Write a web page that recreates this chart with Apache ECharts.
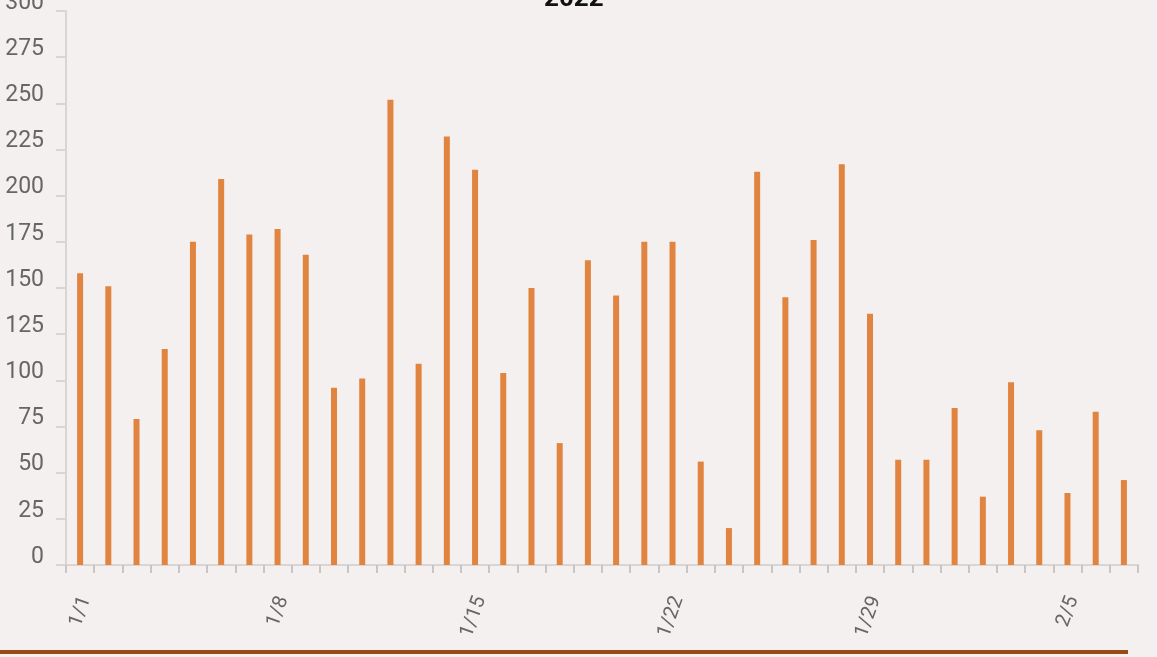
<!DOCTYPE html>
<html>
<head>
<meta charset="utf-8">
<script src="https://cdn.jsdelivr.net/npm/echarts@6/dist/echarts.min.js"></script>
<style>
html,body{margin:0;padding:0;background:#F4F0EF;}
#c{width:1157px;height:657px;}
</style>
</head>
<body>
<div id="c"></div>
<script>
const titleText = '2022';
const categories = ['1/1','1/2','1/3','1/4','1/5','1/6','1/7','1/8','1/9','1/10','1/11','1/12','1/13','1/14','1/15','1/16','1/17','1/18','1/19','1/20','1/21','1/22','1/23','1/24','1/25','1/26','1/27','1/28','1/29','1/30','1/31','2/1','2/2','2/3','2/4','2/5','2/6','2/7'];
const values = [158,151,79,117,175,209,179,182,168,96,101,252,109,232,214,104,150,66,165,146,175,175,56,20,213,145,176,217,136,57,57,85,37,99,73,39,83,46];
const yMin = 0, yMax = 300, yStep = 25;

const chart = echarts.init(document.getElementById('c'));
chart.setOption({
  backgroundColor: '#F4F0EF',
  animation: false,
  title: {
    text: titleText,
    left: 539,
    top: -19,
    textStyle: { fontFamily: 'Roboto', fontWeight: 'bold', fontSize: 26, color: '#111' }
  },
  grid: { left: 66, right: 19, top: 11, bottom: 92, containLabel: false, outerBoundsMode: 'none' },
  xAxis: {
    type: 'category',
    data: categories,
    boundaryGap: true,
    axisLine: { show: true, lineStyle: { color: '#D9D5D4', width: 2 } },
    axisTick: { show: true, interval: 0, length: 8, lineStyle: { color: '#C9C5C4', width: 2 } },
    axisLabel: {
      interval: 6,
      rotate: 70,
      margin: 30,
      verticalAlign: 'top',
      lineHeight: 12,
      fontFamily: 'Roboto',
      fontSize: 20,
      color: '#666'
    },
    splitLine: { show: false }
  },
  yAxis: {
    type: 'value',
    min: yMin, max: yMax, interval: yStep,
    axisLine: { show: true, lineStyle: { color: '#D9D5D4', width: 2 } },
    axisTick: { show: true, length: 10, lineStyle: { color: '#D9D5D4', width: 2 } },
    axisLabel: { margin: 22, fontFamily: 'Roboto', fontSize: 23, color: '#666', verticalAlign: 'bottom', lineHeight: 16 },
    splitLine: { show: false }
  },
  series: [{
    type: 'bar',
    data: values,
    barWidth: 6,
    itemStyle: { color: '#E1843F' }
  }],
  graphic: [{
    type: 'line',
    shape: { x1: 0, y1: 652, x2: 1128, y2: 652 },
    style: { stroke: '#964B14', lineWidth: 4 }
  }]
});
</script>
</body>
</html>
